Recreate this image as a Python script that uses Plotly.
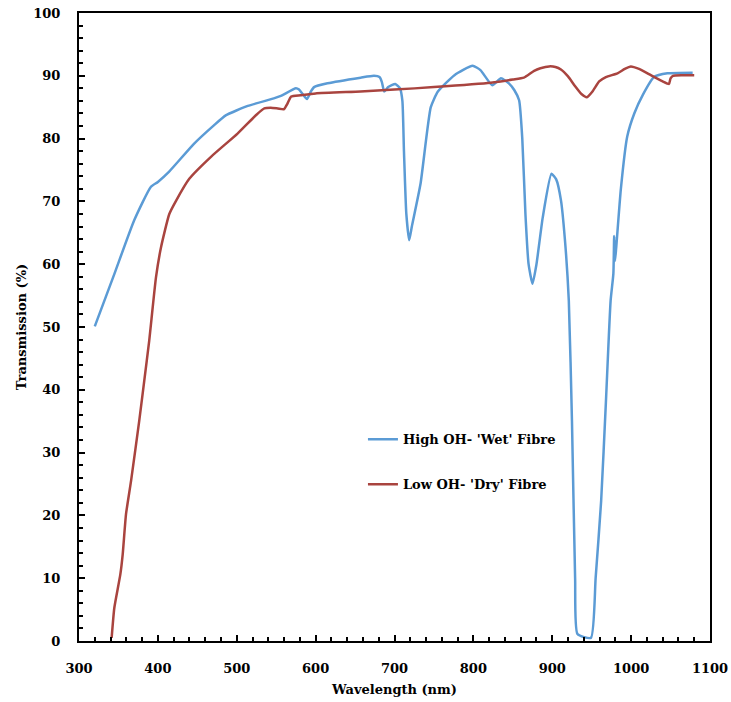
import plotly.graph_objects as go

wet_x = [320, 345, 370, 391, 400, 414, 446, 471, 486, 514, 547, 556, 575, 579, 584, 589, 594, 598, 615, 657, 674, 681, 684, 687, 692, 701, 707, 710, 712, 715, 718.6, 722, 733, 746, 755, 776, 799, 809, 824, 835, 845, 852, 858, 862, 866, 870, 875, 880, 888, 899, 905, 911, 916, 921, 925, 929, 932, 949, 955, 962, 968, 974, 977.5, 978.5, 979.5, 981, 987, 995, 1004, 1015, 1029, 1046, 1078]
wet_y = [50.1, 58.5, 67, 72.3, 73.1, 74.7, 79.2, 82.1, 83.7, 85.2, 86.4, 86.8, 88.0, 87.8, 87.0, 86.3, 87.5, 88.2, 88.8, 89.7, 90.0, 89.8, 89.0, 87.5, 88.2, 88.7, 88.0, 86.0, 78, 68, 63.8, 66, 72.8, 85, 87.5, 90.1, 91.6, 90.9, 88.5, 89.6, 88.8, 87.7, 86.1, 80, 68, 60, 56.9, 60, 67.5, 74.4, 73.5, 70.2, 64, 54.2, 35, 10, 1.1, 0.5, 10, 22.3, 38, 54.2, 58.5, 64.5, 60.5, 62.5, 72, 80.3, 84, 87, 89.8, 90.4, 90.5]

dry_x = [341.4, 344.8, 352.4, 355.4, 359.6, 366, 376.4, 382.8, 389, 397.6, 404, 414.5, 423, 439.8, 467.3, 501, 525, 535, 543, 552, 560, 564, 569, 581, 600, 657, 700, 750, 822, 850, 864, 877, 885, 896, 904, 911, 920, 928, 937, 944, 951, 959.5, 968, 982.7, 992, 999.6, 1010, 1025, 1040, 1048, 1050, 1053, 1065, 1080]
dry_y = [0.5, 5.3, 10.6, 13.8, 20.2, 25.5, 35.1, 41.5, 47.8, 57.9, 62.7, 68.0, 70.1, 73.6, 77.1, 80.8, 83.8, 84.8, 84.9, 84.8, 84.7, 85.5, 86.7, 86.9, 87.2, 87.5, 87.8, 88.2, 88.9, 89.4, 89.7, 90.8, 91.2, 91.5, 91.4, 91.0, 89.9, 88.5, 87.1, 86.6, 87.5, 89.1, 89.8, 90.4, 91.1, 91.5, 91.1, 90.1, 89.1, 88.7, 89.6, 90.0, 90.1, 90.1]

x_ticks = [300, 400, 500, 600, 700, 800, 900, 1000, 1100]
y_ticks = [0, 10, 20, 30, 40, 50, 60, 70, 80, 90, 100]

font_family = "DejaVu Serif"

fig = go.Figure()
fig.add_trace(go.Scatter(x=wet_x, y=wet_y, mode="lines", name="High OH- 'Wet' Fibre", legendgroup="wet",
                         line=dict(color="#5B9BD5", width=2.5, shape="spline", smoothing=0.5)))
fig.add_trace(go.Scatter(x=dry_x, y=dry_y, mode="lines", name="Low OH- 'Dry' Fibre", legendgroup="dry",
                         line=dict(color="#A9443F", width=2.5, shape="spline", smoothing=0.5)))

axis_common = dict(showgrid=False, zeroline=False, showline=True, linecolor="black", linewidth=2,
                   mirror=True, ticks="inside", ticklen=6, tickwidth=2, tickcolor="black", automargin=False,
                   tickfont=dict(family=font_family, size=13, color="black", weight="bold"))

fig.update_xaxes(range=[300, 1100], tickvals=x_ticks, ticktext=[str(v) for v in x_ticks],
                 minor=dict(dtick=20, ticks="inside", ticklen=4, tickwidth=1.5, tickcolor="black"),
                 ticklabelstandoff=14,
                 title=dict(text="<b>Wavelength (nm)</b>", font=dict(family=font_family, size=13, color="black"), standoff=10),
                 **axis_common)
fig.update_yaxes(range=[0, 100], tickvals=y_ticks, ticktext=[str(v) for v in y_ticks],
                 minor=dict(dtick=2, ticks="inside", ticklen=4, tickwidth=1.5, tickcolor="black"),
                 ticklabelstandoff=14,
                 title=dict(text="<b>Transmission (%)</b>", font=dict(family=font_family, size=13, color="black"), standoff=4),
                 **axis_common)

fig.update_layout(
    width=731, height=702,
    margin=dict(l=79, r=21, t=13, b=61),
    plot_bgcolor="white", paper_bgcolor="white",
    legend=dict(x=0.45, y=0.345, xanchor="left", yanchor="top", bgcolor="rgba(0,0,0,0)",
                font=dict(family=font_family, size=13, color="black", weight="bold"),
                itemwidth=30, tracegroupgap=25),
    showlegend=True,
)

fig.write_html("out.html", config={"displayModeBar": False},
               post_script="document.body.style.margin='0';document.body.style.overflow='hidden';")
